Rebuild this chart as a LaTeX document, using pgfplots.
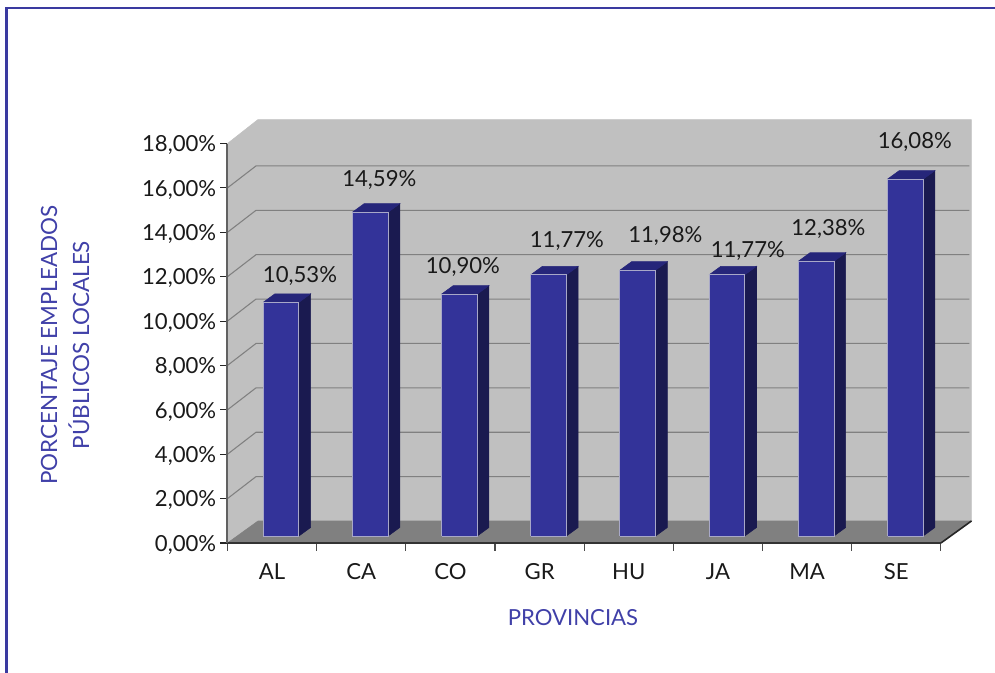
\documentclass[border=0pt]{standalone}
\usepackage{fontspec}
\setmainfont{Lato}
\usepackage{pgfplots}
\pgfplotsset{compat=1.18}
\definecolor{framec}{HTML}{3A3AA0}
\definecolor{titlec}{HTML}{4040A8}
\definecolor{wallc}{HTML}{C0C0C0}
\definecolor{floorc}{HTML}{808080}
\definecolor{barf}{HTML}{333399}
\definecolor{bars}{HTML}{1A1A50}
\definecolor{bart}{HTML}{26267A}
\definecolor{barl}{HTML}{A8A8C8}
\newcommand\gridl[1]{%
  \pgfmathsetmacro\gy{#1+0.991}%
  \addplot[forget plot,no markers,floorc,line width=0.8pt] coordinates {(0,#1)(0.32,\gy)(8.32,\gy)};}
\newcommand\tdbar[2]{%
  \pgfmathsetmacro\xa{#1+0.401}%
  \pgfmathsetmacro\xb{#1+0.801}%
  \pgfmathsetmacro\xc{#1+0.932}%
  \pgfmathsetmacro\xd{#1+0.532}%
  \pgfmathsetmacro\yt{#2+0.315}%
  \pgfmathsetmacro\yb{#2+0.698}%
  \addplot[forget plot,no markers,fill=bars,draw=bars,line width=0.4pt] coordinates {(\xb,0.315)(\xc,0.698)(\xc,\yb)(\xb,\yt)(\xb,0.315)};
  \addplot[forget plot,no markers,fill=bart,draw=bart,line width=0.4pt] coordinates {(\xa,\yt)(\xb,\yt)(\xc,\yb)(\xd,\yb)(\xa,\yt)};
  \addplot[forget plot,no markers,fill=barf,draw=barl,line width=0.75pt] coordinates {(\xa,0.315)(\xb,0.315)(\xb,\yt)(\xa,\yt)(\xa,0.315)};}
\begin{document}
\begin{tikzpicture}
\path[use as bounding box] (0,0) rectangle (746.25pt,504.75pt);
\draw[framec,line width=1.8pt] (4.8pt,0pt) -- (4.8pt,498.75pt) -- (746.25pt,498.75pt);
\begin{axis}[
  at={(170.6pt,97.5pt)},anchor=origin,
  scale only axis,width=535.1pt,height=299.6pt,
  xmin=0,xmax=8,ymin=0,ymax=18,
  clip=false,axis on top=true,
  axis x line*=bottom,axis y line*=left,
  x axis line style={-,line width=1.5pt,color=black!80},
  y axis line style={-,line width=1.5pt,color=black!62},
  xtick={0.5,1.5,2.5,3.5,4.5,5.5,6.5,7.5},
  xticklabels={AL,CA,CO,GR,HU,JA,MA,SE},
  minor xtick={0,1,2,3,4,5,6,7,8},
  major x tick style={draw=none},
  minor x tick style={black!70,line width=0.8pt},
  minor tick length=6pt,
  xtick align=outside,ytick align=outside,
  ytick={0,2,4,6,8,10,12,14,16,18},
  y tick style={black!85,line width=0.8pt},
  major tick length=5.5pt,
  yticklabel={\pgfmathprintnumber{\tick}\%},
  /pgf/number format/.cd,fixed,fixed zerofill,precision=2,use comma,assume math mode=true,
  /pgfplots/.cd,
  tick label style={font=\fontsize{16.6}{18}\selectfont,text=black!90},
  yticklabel style={xshift=0.6pt,yshift=-1.3pt},
  xticklabel style={yshift=-6.6pt},
  xlabel={PROVINCIAS},
  xlabel style={at={(rel axis cs:0.4843,-0.1878)},anchor=center,font=\fontsize{16.6}{18}\selectfont,text=titlec},
  ylabel={PORCENTAJE EMPLEADOS\\PÚBLICOS LOCALES},
  ylabel style={at={(rel axis cs:-0.2277,0.4956)},anchor=center,rotate=0,align=center,font=\fontsize{16.8}{24}\selectfont,text=titlec},
]
% wall and floor
\addplot[forget plot,no markers,fill=wallc,draw=wallc] coordinates {(0,0)(0,18)(0.342,19.08)(8.342,19.08)(8.342,0.991)(8,0)(0,0)};
\addplot[forget plot,no markers,fill=floorc,draw=floorc] coordinates {(0,0)(0.342,0.991)(8.342,0.991)(8,0)(0,0)};
\addplot[forget plot,no markers,black!85,line width=1.2pt] coordinates {(8,0)(8.342,0.991)};
\gridl{2}\gridl{4}\gridl{6}\gridl{8}\gridl{10}\gridl{12}\gridl{14}\gridl{16}
% bars: index, value
\tdbar{0}{10.53}
\tdbar{1}{14.59}
\tdbar{2}{10.90}
\tdbar{3}{11.77}
\tdbar{4}{11.98}
\tdbar{5}{11.77}
\tdbar{6}{12.38}
\tdbar{7}{16.08}
% data labels
\begin{scope}[every node/.style={font=\fontsize{16.6}{18}\selectfont,text=black!90,anchor=center}]
\node at (axis cs:0.813,12.02) {10,53\%};
\node at (axis cs:1.703,16.35) {14,59\%};
\node at (axis cs:2.640,12.43) {10,90\%};
\node at (axis cs:3.806,13.60) {11,77\%};
\node at (axis cs:4.910,13.82) {11,98\%};
\node at (axis cs:5.835,13.15) {11,77\%};
\node at (axis cs:6.738,14.14) {12,38\%};
\node at (axis cs:7.707,18.06) {16,08\%};
\end{scope}
\end{axis}
\end{tikzpicture}
\end{document}
